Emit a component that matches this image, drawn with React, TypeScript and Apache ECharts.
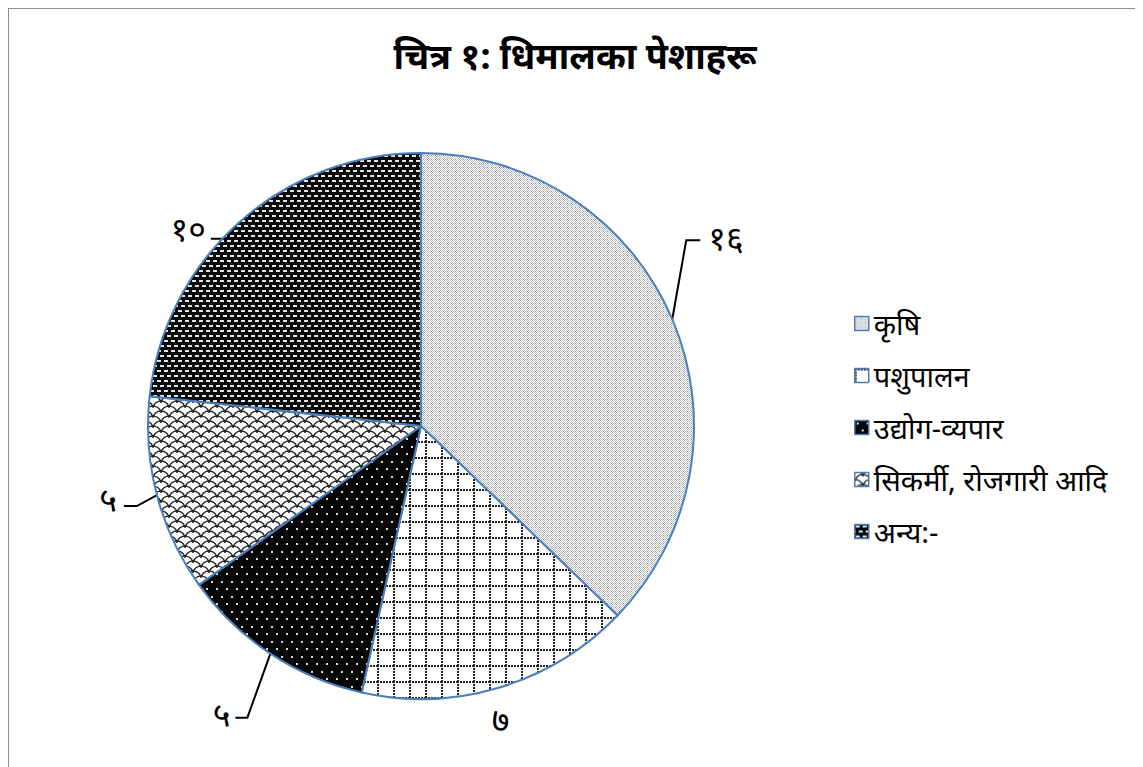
import React, { useEffect, useRef } from "react";
import * as echarts from "echarts";

const titleText = "चित्र १: धिमालका पेशाहरू";
const categories = ["कृषि", "पशुपालन", "उद्योग-व्यपार", "सिकर्मी, रोजगारी आदि", "अन्य:-"];
const values = [16, 7, 5, 5, 10];
const valueLabels = ["१६", "७", "५", "५", "१०"];

// leader-line styling offsets relative to the slice's edge point: [bend, end, label anchor, align]
const leaderStyle: any[] = [
  { bend: [14, -79], end: [28, -79], label: [36, -82], align: "left" },
  { bend: [0, 0], end: [0, 0], label: [1, 32], align: "center" },
  { bend: [-23, 64], end: [-35, 64], label: [-40, 60], align: "right" },
  { bend: [-20, 11], end: [-33, 11], label: [-40, 4], align: "right" },
  { bend: [-11, 16], end: [-28, 16], label: [-33, 5], align: "right" },
];

function makeTile(w: number, h: number, draw: (c: CanvasRenderingContext2D) => void) {
  const cv = document.createElement("canvas");
  cv.width = w;
  cv.height = h;
  const c = cv.getContext("2d")!;
  draw(c);
  return { image: cv.toDataURL(), repeat: "repeat", imageWidth: w, imageHeight: h } as any;
}

function patterns() {
  const p1 = makeTile(4, 4, (c) => {
    c.fillStyle = "#ffffff";
    c.fillRect(0, 0, 4, 4);
    c.fillStyle = "#bcbcbc";
    c.fillRect(0, 0, 1, 1);
    c.fillRect(2, 0, 1, 1);
    c.fillRect(1, 1, 1, 1);
    c.fillRect(3, 1, 1, 1);
    c.fillRect(0, 2, 1, 1);
    c.fillRect(1, 3, 1, 1);
    c.fillRect(3, 3, 1, 1);
    c.fillStyle = "#8a8a8a";
    c.fillRect(2, 2, 1, 1);
  });
  const p2 = makeTile(16, 16, (c) => {
    c.fillStyle = "#ffffff";
    c.fillRect(0, 0, 16, 16);
    c.fillStyle = "#222222";
    for (let i = 0; i < 16; i += 3) {
      c.fillRect(i, 0, 2, 2);
      c.fillRect(0, i, 2, 2);
    }
  });
  const p3 = makeTile(10, 15, (c) => {
    c.fillStyle = "#050505";
    c.fillRect(0, 0, 10, 15);
    c.fillStyle = "#d8d8d8";
    c.fillRect(2, 2, 2, 2);
    c.fillRect(7, 9, 2, 2);
  });
  const p4 = makeTile(16, 10, (c) => {
    c.fillStyle = "#ffffff";
    c.fillRect(0, 0, 16, 10);
    c.strokeStyle = "#222222";
    c.lineWidth = 1.4;
    const centers = [
      [8, 0], [8, 10], [8, 20], [0, 5], [16, 5], [0, 15], [16, 15],
    ];
    for (const [cx, cy] of centers) {
      c.beginPath();
      c.arc(cx, cy, 8, Math.PI * 1.05, Math.PI * 1.95);
      c.stroke();
    }
  });
  const p5 = makeTile(7, 10, (c) => {
    c.fillStyle = "#0a0a0a";
    c.fillRect(0, 0, 7, 10);
    c.fillStyle = "#e4e4e4";
    c.fillRect(1, 1, 4, 2);
    c.fillRect(4, 6, 4, 2);
    c.fillRect(0, 6, 1, 2);
  });
  return [p1, p2, p3, p4, p5];
}

export default function App() {
  const ref = useRef<HTMLDivElement>(null);
  useEffect(() => {
    const chart = echarts.init(ref.current!, undefined, { renderer: "svg" });
    const pats = patterns();
    const border = "#4a7ebb";
    chart.setOption({
      animation: false,
      backgroundColor: "#ffffff",
      title: {
        text: titleText,
        left: "center",
        top: 23,
        textStyle: { fontSize: 36, fontWeight: "bold", color: "#000", fontFamily: "Noto Sans, sans-serif" },
      },
      legend: {
        orient: "vertical",
        left: 840,
        top: 293,
        itemWidth: 14,
        itemHeight: 14,
        itemGap: 19,
        icon: "rect",
        itemStyle: { borderColor: border, borderWidth: 1.5 },
        textStyle: { fontSize: 29, color: "#000", lineHeight: 33, fontFamily: "Noto Sans, sans-serif" },
        data: categories,
      },
      series: [
        {
          type: "pie",
          center: [412, 417],
          radius: 273,
          startAngle: 90,
          clockwise: true,
          itemStyle: { borderColor: border, borderWidth: 2 },
          label: {
            show: true,
            position: "outside",
            color: "#000",
            fontSize: 34,
            fontFamily: "Noto Sans, sans-serif",
            formatter: (p: any) => valueLabels[p.dataIndex],
          },
          labelLine: { show: true, length: 18, length2: 14, lineStyle: { color: "#000", width: 2 } },
          labelLayout: (params: any) => {
            const s = leaderStyle[params.dataIndex];
            const pts = params.labelLinePoints;
            if (!s || !pts) return {};
            const [x0, y0] = pts[0];
            return {
              x: x0 + s.label[0],
              y: y0 + s.label[1],
              align: s.align,
              verticalAlign: "middle",
              labelLinePoints: [
                [x0, y0],
                [x0 + s.bend[0], y0 + s.bend[1]],
                [x0 + s.end[0], y0 + s.end[1]],
              ],
            };
          },
          emphasis: { disabled: true },
          data: categories.map((name, i) => ({
            name,
            value: values[i],
            itemStyle: { color: pats[i] },
          })),
        },
      ],
    });
    return () => chart.dispose();
  }, []);
  return (
    <div
      ref={ref}
      style={{ width: 1134, height: 770, border: "1px solid #8c8c8c", boxSizing: "border-box" }}
    />
  );
}
